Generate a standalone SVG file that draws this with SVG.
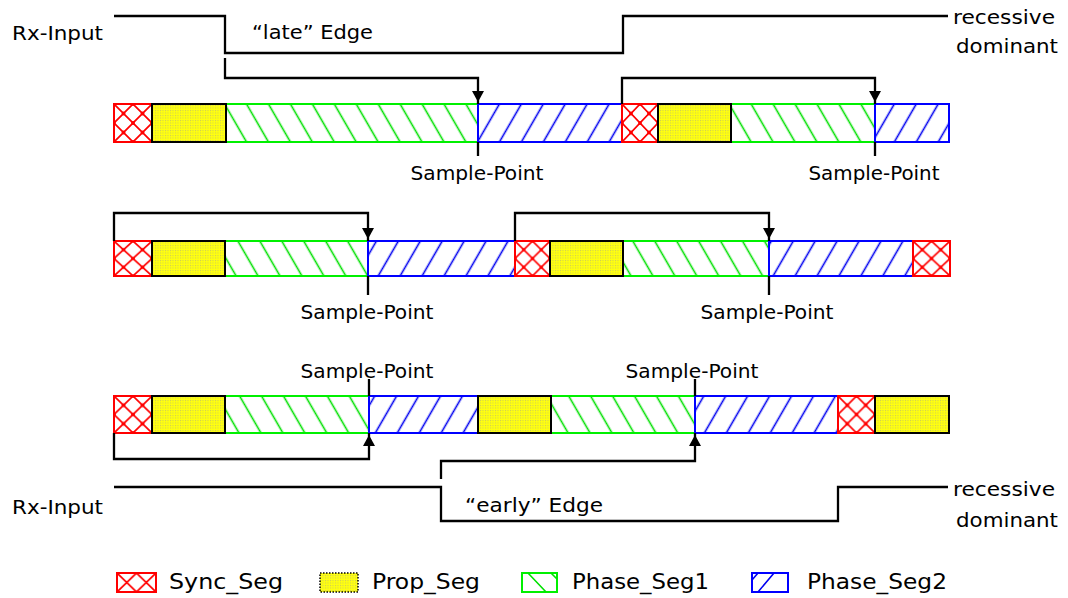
<svg xmlns="http://www.w3.org/2000/svg" width="1068" height="598" viewBox="0 0 1068 598">
<style>
.t{font-family:"DejaVu Sans","Liberation Sans",sans-serif;font-size:19.5px;fill:#000}
.lg{font-size:21px}
.c{text-anchor:middle}
.ln{fill:none;stroke:#000;stroke-width:2.3}
.sy{fill:url(#pSync);stroke:#f00;stroke-width:2}
.pr{fill:url(#pProp);stroke:#000;stroke-width:2}
.p1{fill:url(#pPh1);stroke:#00f000;stroke-width:2}
.p2{fill:url(#pPh2);stroke:#00f;stroke-width:2}
</style>
<defs>
<pattern id="pSync" patternUnits="objectBoundingBox" patternContentUnits="objectBoundingBox" width="0.5" height="0.5">
<rect width="0.5" height="0.5" fill="#fff"/>
<path d="M0,0 L0.5,0.5 M0.5,0 L0,0.5" stroke="#f00" stroke-width="0.045"/>
<g fill="#f00"><circle cx="0.25" cy="0.25" r="0.05"/><circle cx="0" cy="0" r="0.05"/><circle cx="0.5" cy="0" r="0.05"/><circle cx="0" cy="0.5" r="0.05"/><circle cx="0.5" cy="0.5" r="0.05"/></g>
</pattern>
<pattern id="pSyncL" patternUnits="userSpaceOnUse" x="117" y="573" width="19.5" height="19">
<rect width="19.5" height="19" fill="#fff"/>
<path d="M0,0 L19.5,19 M19.5,0 L0,19" stroke="#f00" stroke-width="1.7"/>
</pattern>
<pattern id="pProp" patternUnits="userSpaceOnUse" width="2.5" height="2.5">
<rect width="2.5" height="2.5" fill="#ffff10"/>
<rect width="1" height="1" fill="#c8c860"/>
</pattern>
<pattern id="pPh1" patternUnits="userSpaceOnUse" width="19" height="19" patternTransform="rotate(-30)">
<rect width="19" height="19" fill="#fff"/>
<line x1="9.5" y1="-1" x2="9.5" y2="20" stroke="#00e000" stroke-width="1.6"/>
</pattern>
<pattern id="pPh2" patternUnits="userSpaceOnUse" width="19" height="19" patternTransform="rotate(30)">
<rect width="19" height="19" fill="#fff"/>
<line x1="9.5" y1="-1" x2="9.5" y2="20" stroke="#0000f0" stroke-width="1.6"/>
</pattern>
<marker id="arr" markerUnits="userSpaceOnUse" markerWidth="14" markerHeight="12" viewBox="0 0 14 12" refX="13" refY="6" orient="auto">
<path d="M0,0 L11,6 L0,12 z" fill="#000"/>
</marker>
</defs>
<rect width="1068" height="598" fill="#fff"/>

<g id="row1">
<rect id="r1-ph1a" class="p1" x="226" y="104" width="252" height="38"/>
<rect id="r1-ph1b" class="p1" x="731" y="104" width="144" height="38"/>
<rect id="r1-ph2a" class="p2" x="478" y="104" width="144" height="38"/>
<rect id="r1-ph2b" class="p2" x="875" y="104" width="74" height="38"/>
<rect id="r1-sya" class="sy" x="114" y="104" width="38" height="38"/>
<rect id="r1-syb" class="sy" x="622" y="104" width="36" height="38"/>
<rect id="r1-pra" class="pr" x="152" y="104" width="74" height="38"/>
<rect id="r1-prb" class="pr" x="658" y="104" width="73" height="38"/>
</g>

<g id="row2">
<rect id="r2-ph1a" class="p1" x="225" y="241" width="143" height="35"/>
<rect id="r2-ph1b" class="p1" x="623" y="241" width="146" height="35"/>
<rect id="r2-ph2a" class="p2" x="368" y="241" width="147" height="35"/>
<rect id="r2-ph2b" class="p2" x="769" y="241" width="144" height="35"/>
<rect id="r2-sya" class="sy" x="114" y="241" width="38" height="35"/>
<rect id="r2-syb" class="sy" x="515" y="241" width="35" height="35"/>
<rect id="r2-syc" class="sy" x="913" y="241" width="37" height="35"/>
<rect id="r2-pra" class="pr" x="152" y="241" width="73" height="35"/>
<rect id="r2-prb" class="pr" x="550" y="241" width="73" height="35"/>
</g>

<g id="row3">
<rect id="r3-ph1a" class="p1" x="225" y="396" width="144" height="37"/>
<rect id="r3-ph1b" class="p1" x="551" y="396" width="144" height="37"/>
<rect id="r3-ph2a" class="p2" x="369" y="396" width="109" height="37"/>
<rect id="r3-ph2b" class="p2" x="695" y="396" width="143" height="37"/>
<rect id="r3-sya" class="sy" x="114" y="396" width="38" height="37"/>
<rect id="r3-syb" class="sy" x="838" y="396" width="37" height="37"/>
<rect id="r3-pra" class="pr" x="152" y="396" width="73" height="37"/>
<rect id="r3-prb" class="pr" x="478" y="396" width="73" height="37"/>
<rect id="r3-prc" class="pr" x="875" y="396" width="74" height="37"/>
</g>

<g id="connectors">
<path class="ln" d="M114,16 H225 V53 H623 V16 H948"/>
<path class="ln" d="M225,58 V78 H478 V104" marker-end="url(#arr)"/>
<path class="ln" d="M622,104 V78 H875 V104" marker-end="url(#arr)"/>
<path class="ln" d="M478,142 V156 M875,142 V156"/>
<path class="ln" d="M114,241 V213 H368 V241" marker-end="url(#arr)"/>
<path class="ln" d="M515,241 V213 H769 V241" marker-end="url(#arr)"/>
<path class="ln" d="M368,276 V295 M769,276 V295"/>
<path class="ln" d="M369,379 V396 M695,379 V396"/>
<path class="ln" d="M114,433 V459 H369 V433" marker-end="url(#arr)"/>
<path class="ln" d="M441,479 V461 H695 V433" marker-end="url(#arr)"/>
<path class="ln" d="M114,487 H441 V521 H838 V487 H948"/>
</g>

<g id="labels">
<text class="t" x="12" y="40" textLength="91" lengthAdjust="spacingAndGlyphs">Rx-Input</text>
<text class="t" x="12" y="514" textLength="91" lengthAdjust="spacingAndGlyphs">Rx-Input</text>
<text class="t" x="252" y="39" textLength="121" lengthAdjust="spacingAndGlyphs">“late” Edge</text>
<text class="t" x="465" y="512" textLength="138" lengthAdjust="spacingAndGlyphs">“early” Edge</text>
<text class="t" x="953" y="24" textLength="102" lengthAdjust="spacingAndGlyphs">recessive</text>
<text class="t" x="956" y="53" textLength="102" lengthAdjust="spacingAndGlyphs">dominant</text>
<text class="t" x="953" y="496" textLength="102" lengthAdjust="spacingAndGlyphs">recessive</text>
<text class="t" x="956" y="527" textLength="102" lengthAdjust="spacingAndGlyphs">dominant</text>
<text class="t c" x="477" y="180" textLength="133" lengthAdjust="spacingAndGlyphs">Sample-Point</text>
<text class="t c" x="874" y="180" textLength="131" lengthAdjust="spacingAndGlyphs">Sample-Point</text>
<text class="t c" x="367" y="319" textLength="133" lengthAdjust="spacingAndGlyphs">Sample-Point</text>
<text class="t c" x="767" y="319" textLength="133" lengthAdjust="spacingAndGlyphs">Sample-Point</text>
<text class="t c" x="367" y="378" textLength="133" lengthAdjust="spacingAndGlyphs">Sample-Point</text>
<text class="t c" x="692" y="378" textLength="133" lengthAdjust="spacingAndGlyphs">Sample-Point</text>
</g>

<g id="legend">
<g id="leg-sync"><rect x="117" y="573" width="39" height="19" fill="url(#pSyncL)" stroke="#f00" stroke-width="2"/>
<text class="t lg" x="169" y="589" textLength="114" lengthAdjust="spacingAndGlyphs">Sync_Seg</text></g>
<g id="leg-prop"><rect x="320" y="573" width="38" height="19" fill="url(#pProp)" stroke="#000" stroke-width="1.5" stroke-dasharray="1.5 1.5"/>
<text class="t lg" x="372" y="589" textLength="108" lengthAdjust="spacingAndGlyphs">Prop_Seg</text></g>
<g id="leg-ph1"><rect x="522" y="573" width="35" height="19" fill="#fff" stroke="#00f000" stroke-width="2"/>
<path d="M528,573 L546,592 M551,573 L557,579" stroke="#00e000" stroke-width="1.6"/>
<text class="t lg" x="572" y="589" textLength="137" lengthAdjust="spacingAndGlyphs">Phase_Seg1</text></g>
<g id="leg-ph2"><rect x="752" y="573" width="36" height="19" fill="#fff" stroke="#00f" stroke-width="2"/>
<path d="M774,573 L758,592 M758,573 L752,580" stroke="#0000f0" stroke-width="1.6"/>
<text class="t lg" x="807" y="589" textLength="140" lengthAdjust="spacingAndGlyphs">Phase_Seg2</text></g>
</g>
</svg>
